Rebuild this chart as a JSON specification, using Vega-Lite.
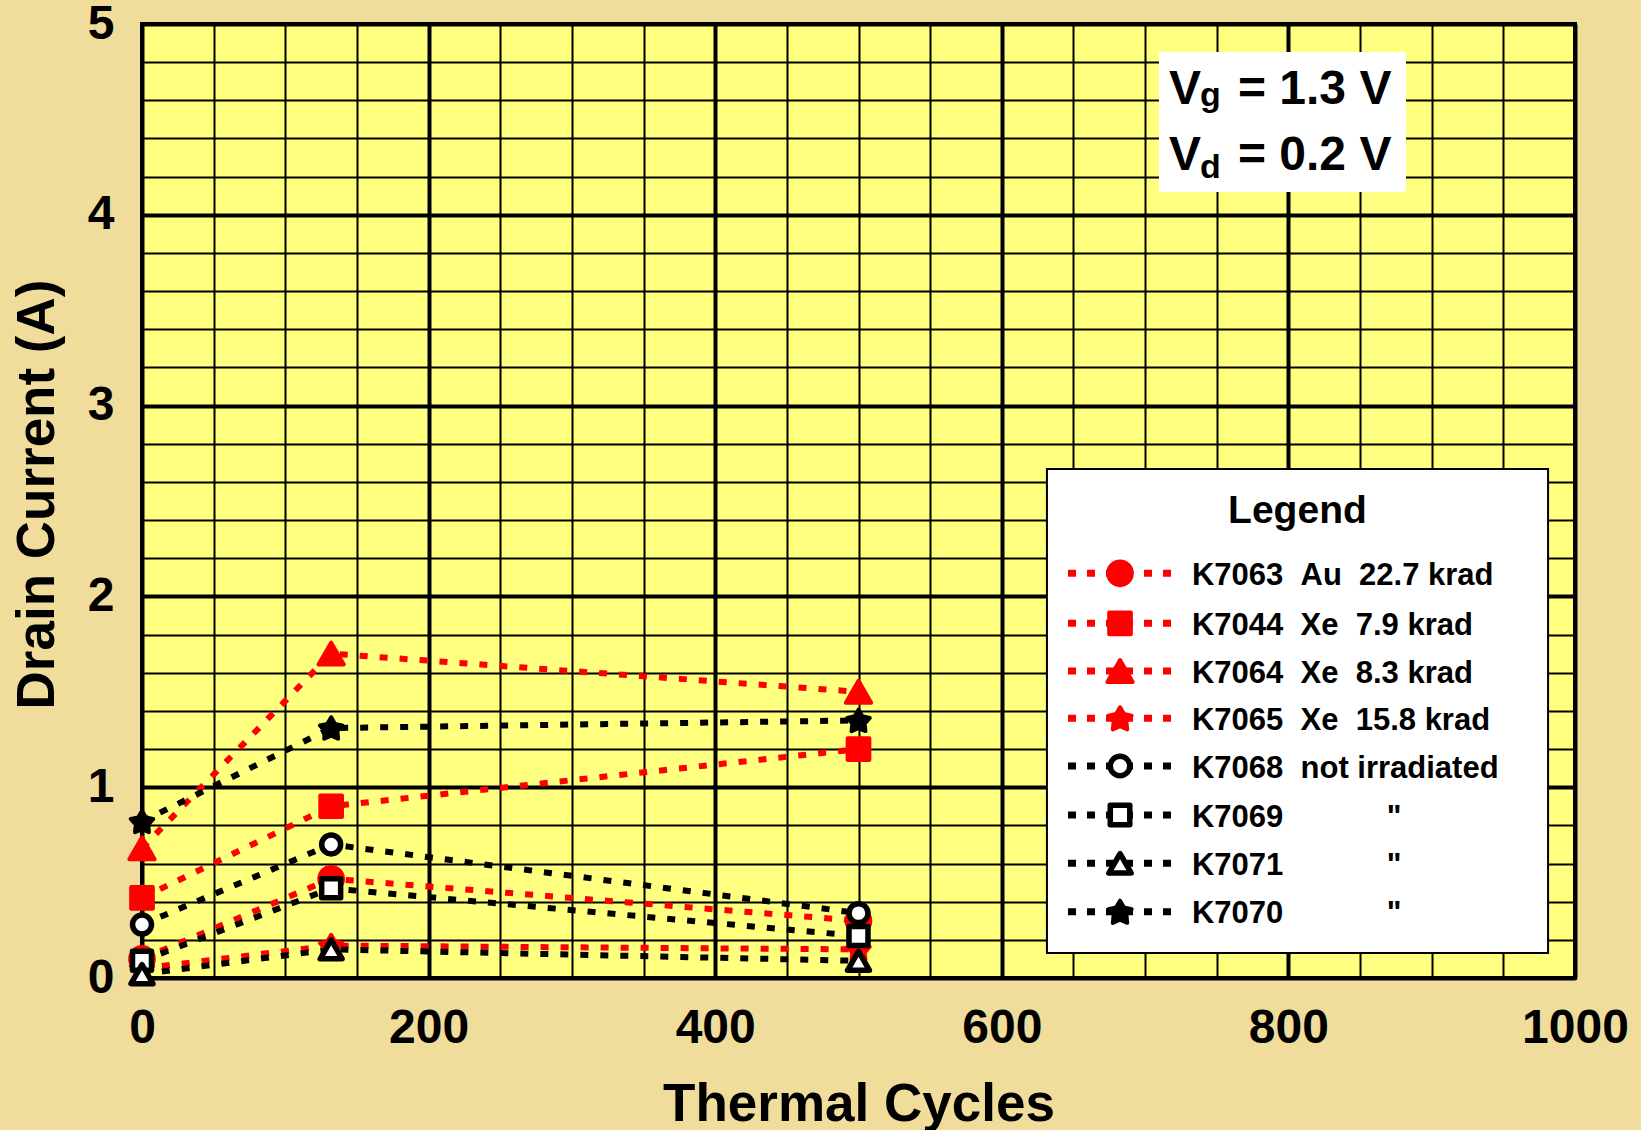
{
  "$schema": "https://vega.github.io/schema/vega-lite/v6.json",
  "width": 1433,
  "height": 954,
  "autosize": {"type": "none"},
  "padding": {"left": 142, "top": 24, "right": 66, "bottom": 152},
  "background": "#F0DC9B",
  "config": {
    "font": "Liberation Sans",
    "view": {"fill": "#FFFF80", "stroke": "#000000", "strokeWidth": 4}
  },
  "data": {
    "values": [
      {"series": "K7063", "cycles": 0, "current": 0.10},
      {"series": "K7063", "cycles": 132, "current": 0.52},
      {"series": "K7063", "cycles": 500, "current": 0.30},
      {"series": "K7044", "cycles": 0, "current": 0.42},
      {"series": "K7044", "cycles": 132, "current": 0.90},
      {"series": "K7044", "cycles": 500, "current": 1.20},
      {"series": "K7064", "cycles": 0, "current": 0.68},
      {"series": "K7064", "cycles": 132, "current": 1.70},
      {"series": "K7064", "cycles": 500, "current": 1.50},
      {"series": "K7065", "cycles": 0, "current": 0.05},
      {"series": "K7065", "cycles": 132, "current": 0.17},
      {"series": "K7065", "cycles": 500, "current": 0.15},
      {"series": "K7068", "cycles": 0, "current": 0.28},
      {"series": "K7068", "cycles": 132, "current": 0.70},
      {"series": "K7068", "cycles": 500, "current": 0.34},
      {"series": "K7069", "cycles": 0, "current": 0.09},
      {"series": "K7069", "cycles": 132, "current": 0.47},
      {"series": "K7069", "cycles": 500, "current": 0.22},
      {"series": "K7071", "cycles": 0, "current": 0.02},
      {"series": "K7071", "cycles": 132, "current": 0.15},
      {"series": "K7071", "cycles": 500, "current": 0.09},
      {"series": "K7070", "cycles": 0, "current": 0.82},
      {"series": "K7070", "cycles": 132, "current": 1.31},
      {"series": "K7070", "cycles": 500, "current": 1.35}
    ]
  },
  "layer": [
    {
      "mark": {"type": "line", "strokeWidth": 6, "strokeDash": [8, 12], "strokeCap": "butt"},
      "encoding": {
        "x": {
          "field": "cycles",
          "type": "quantitative",
          "scale": {"domain": [0, 1000], "nice": false, "zero": false},
          "axis": {
            "title": "Thermal Cycles",
            "values": [0, 50, 100, 150, 200, 250, 300, 350, 400, 450, 500, 550, 600, 650, 700, 750, 800, 850, 900, 950, 1000],
            "tickCount": 40,
            "format": "d",
            "labelExpr": "datum.value % 200 === 0 ? datum.label : ''",
            "grid": true,
            "gridColor": "#000000",
            "gridOpacity": 1,
            "gridWidth": {"condition": {"test": "datum.value % 200 === 0", "value": 4}, "value": 2},
            "ticks": false,
            "tickSize": 0,
            "domain": false,
            "labelFont": "Liberation Sans",
            "labelFontSize": 48,
            "labelFontWeight": "bold",
            "labelColor": "#000000",
            "labelBaseline": "alphabetic",
            "labelPadding": 64,
            "labelFlush": false,
            "labelOverlap": false,
            "titleFont": "Liberation Sans",
            "titleFontSize": 53,
            "titleFontWeight": "bold",
            "titleColor": "#000000",
            "titleBaseline": "alphabetic",
            "titleY": 142
          }
        },
        "y": {
          "field": "current",
          "type": "quantitative",
          "scale": {"domain": [0, 5], "nice": false},
          "axis": {
            "title": "Drain Current (A)",
            "values": [0, 0.2, 0.4, 0.6, 0.8, 1, 1.2, 1.4, 1.6, 1.8, 2, 2.2, 2.4, 2.6, 2.8, 3, 3.2, 3.4, 3.6, 3.8, 4, 4.2, 4.4, 4.6, 4.8, 5],
            "tickCount": 40,
            "labelExpr": "abs(datum.value - round(datum.value)) < 0.001 ? '' + round(datum.value) : ''",
            "grid": true,
            "gridColor": "#000000",
            "gridOpacity": 1,
            "gridWidth": {"condition": {"test": "abs(datum.value - round(datum.value)) < 0.001", "value": 4}, "value": 2},
            "ticks": false,
            "tickSize": 0,
            "domain": false,
            "labelFont": "Liberation Sans",
            "labelFontSize": 48,
            "labelFontWeight": "bold",
            "labelColor": "#000000",
            "labelPadding": 28,
            "labelBaseline": "middle",
            "labelFlush": false,
            "labelOverlap": false,
            "titleFont": "Liberation Sans",
            "titleFontSize": 53,
            "titleFontWeight": "bold",
            "titleColor": "#000000",
            "titleBaseline": "alphabetic",
            "titleAngle": -90,
            "titleX": -89,
            "titleY": 470,
            "titleAlign": "center"
          }
        },
        "stroke": {
          "field": "series",
          "type": "nominal",
          "scale": {
            "domain": ["K7063", "K7044", "K7064", "K7065", "K7068", "K7069", "K7071", "K7070"],
            "range": ["#FF0000", "#FF0000", "#FF0000", "#FF0000", "#000000", "#000000", "#000000", "#000000"]
          },
          "legend": null
        }
      }
    },
    {
      "transform": [{"filter": {"field": "series", "equal": "K7063"}}],
      "mark": {"type": "point", "shape": "circle", "filled": true, "fill": "#FF0000", "stroke": "#FF0000", "strokeWidth": 4, "size": 560, "opacity": 1},
      "encoding": {"x": {"field": "cycles", "type": "quantitative"}, "y": {"field": "current", "type": "quantitative"}}
    },
    {
      "transform": [{"filter": {"field": "series", "equal": "K7044"}}],
      "mark": {"type": "point", "shape": "square", "filled": true, "fill": "#FF0000", "stroke": "#FF0000", "strokeWidth": 4, "strokeJoin": "round", "size": 470, "opacity": 1},
      "encoding": {"x": {"field": "cycles", "type": "quantitative"}, "y": {"field": "current", "type": "quantitative"}}
    },
    {
      "transform": [{"filter": {"field": "series", "equal": "K7064"}}],
      "mark": {"type": "point", "shape": "triangle-up", "filled": true, "fill": "#FF0000", "stroke": "#FF0000", "strokeWidth": 4, "strokeJoin": "round", "size": 640, "opacity": 1},
      "encoding": {"x": {"field": "cycles", "type": "quantitative"}, "y": {"field": "current", "type": "quantitative"}}
    },
    {
      "transform": [{"filter": {"field": "series", "equal": "K7065"}}],
      "mark": {"type": "point", "shape": "M0,-0.905L0.323,-0.35L0.951,-0.214L0.523,0.265L0.588,0.904L0,0.645L-0.588,0.904L-0.523,0.265L-0.951,-0.214L-0.323,-0.35Z", "filled": true, "fill": "#FF0000", "stroke": "#FF0000", "strokeWidth": 4, "strokeJoin": "round", "size": 560, "opacity": 1},
      "encoding": {"x": {"field": "cycles", "type": "quantitative"}, "y": {"field": "current", "type": "quantitative"}}
    },
    {
      "transform": [{"filter": {"field": "series", "equal": "K7070"}}],
      "mark": {"type": "point", "shape": "M0,-0.905L0.323,-0.35L0.951,-0.214L0.523,0.265L0.588,0.904L0,0.645L-0.588,0.904L-0.523,0.265L-0.951,-0.214L-0.323,-0.35Z", "filled": true, "fill": "#000000", "stroke": "#000000", "strokeWidth": 4, "strokeJoin": "round", "size": 560, "opacity": 1},
      "encoding": {"x": {"field": "cycles", "type": "quantitative"}, "y": {"field": "current", "type": "quantitative"}}
    },
    {
      "transform": [{"filter": {"field": "series", "equal": "K7068"}}],
      "mark": {"type": "point", "shape": "circle", "filled": true, "fill": "#FFFFFF", "stroke": "#000000", "strokeWidth": 5.5, "size": 360, "opacity": 1},
      "encoding": {"x": {"field": "cycles", "type": "quantitative"}, "y": {"field": "current", "type": "quantitative"}}
    },
    {
      "transform": [{"filter": {"field": "series", "equal": "K7069"}}],
      "mark": {"type": "point", "shape": "square", "filled": true, "fill": "#FFFFFF", "stroke": "#000000", "strokeWidth": 5.5, "strokeJoin": "round", "size": 360, "opacity": 1},
      "encoding": {"x": {"field": "cycles", "type": "quantitative"}, "y": {"field": "current", "type": "quantitative"}}
    },
    {
      "transform": [{"filter": {"field": "series", "equal": "K7071"}}],
      "mark": {"type": "point", "shape": "triangle-up", "filled": true, "fill": "#FFFFFF", "stroke": "#000000", "strokeWidth": 5.5, "strokeJoin": "round", "size": 480, "opacity": 1},
      "encoding": {"x": {"field": "cycles", "type": "quantitative"}, "y": {"field": "current", "type": "quantitative"}}
    },
    {
      "data": {"values": [{"box": "bias"}]},
      "mark": {"type": "rect", "fill": "#FFFFFF", "strokeWidth": 0},
      "encoding": {"x": {"datum": 709.7, "type": "quantitative"}, "x2": {"datum": 882.1}, "y": {"datum": 4.853, "type": "quantitative"}, "y2": {"datum": 4.119}}
    },
    {
      "data": {"values": [{"box": "bias"}]},
      "mark": {"type": "text", "text": "V", "fontWeight": "bold", "fontSize": 48, "align": "left", "baseline": "alphabetic", "color": "#000000"},
      "encoding": {"x": {"datum": 716.7, "type": "quantitative"}, "y": {"datum": 4.581, "type": "quantitative"}}
    },
    {
      "data": {"values": [{"box": "bias"}]},
      "mark": {"type": "text", "text": "g", "fontWeight": "bold", "fontSize": 34, "align": "left", "baseline": "alphabetic", "color": "#000000"},
      "encoding": {"x": {"datum": 738.3, "type": "quantitative"}, "y": {"datum": 4.57, "type": "quantitative"}}
    },
    {
      "data": {"values": [{"box": "bias"}]},
      "mark": {"type": "text", "text": "= 1.3 V", "fontWeight": "bold", "fontSize": 48, "align": "left", "baseline": "alphabetic", "color": "#000000"},
      "encoding": {"x": {"datum": 764.8, "type": "quantitative"}, "y": {"datum": 4.581, "type": "quantitative"}}
    },
    {
      "data": {"values": [{"box": "bias"}]},
      "mark": {"type": "text", "text": "V", "fontWeight": "bold", "fontSize": 48, "align": "left", "baseline": "alphabetic", "color": "#000000"},
      "encoding": {"x": {"datum": 716.7, "type": "quantitative"}, "y": {"datum": 4.235, "type": "quantitative"}}
    },
    {
      "data": {"values": [{"box": "bias"}]},
      "mark": {"type": "text", "text": "d", "fontWeight": "bold", "fontSize": 34, "align": "left", "baseline": "alphabetic", "color": "#000000"},
      "encoding": {"x": {"datum": 738.3, "type": "quantitative"}, "y": {"datum": 4.193, "type": "quantitative"}}
    },
    {
      "data": {"values": [{"box": "bias"}]},
      "mark": {"type": "text", "text": "= 0.2 V", "fontWeight": "bold", "fontSize": 48, "align": "left", "baseline": "alphabetic", "color": "#000000"},
      "encoding": {"x": {"datum": 764.8, "type": "quantitative"}, "y": {"datum": 4.235, "type": "quantitative"}}
    },
    {
      "data": {"values": [{"box": "legend"}]},
      "mark": {"type": "rect", "fill": "#FFFFFF", "stroke": "#000000", "strokeWidth": 2},
      "encoding": {"x": {"datum": 631.5, "type": "quantitative"}, "x2": {"datum": 981.2}, "y": {"datum": 2.668, "type": "quantitative"}, "y2": {"datum": 0.131}}
    },
    {
      "data": {"values": [{"box": "legend"}]},
      "mark": {"type": "text", "text": "Legend", "fontWeight": "bold", "fontSize": 39, "align": "center", "baseline": "alphabetic", "color": "#000000"},
      "encoding": {"x": {"datum": 806.3, "type": "quantitative"}, "y": {"datum": 2.385, "type": "quantitative"}}
    },
    {"data": {"values": [{"box": "legend"}]}, "mark": {"type": "rule", "color": "#FF0000", "strokeWidth": 7, "strokeDash": [8, 11], "strokeCap": "butt"}, "encoding": {"x": {"datum": 646.2, "type": "quantitative"}, "x2": {"datum": 720.2}, "y": {"datum": 2.121, "type": "quantitative"}}},
    {"data": {"values": [{"box": "legend"}]}, "mark": {"type": "rule", "color": "#FF0000", "strokeWidth": 7, "strokeDash": [8, 11], "strokeCap": "butt"}, "encoding": {"x": {"datum": 646.2, "type": "quantitative"}, "x2": {"datum": 720.2}, "y": {"datum": 1.859, "type": "quantitative"}}},
    {"data": {"values": [{"box": "legend"}]}, "mark": {"type": "rule", "color": "#FF0000", "strokeWidth": 7, "strokeDash": [8, 11], "strokeCap": "butt"}, "encoding": {"x": {"datum": 646.2, "type": "quantitative"}, "x2": {"datum": 720.2}, "y": {"datum": 1.609, "type": "quantitative"}}},
    {"data": {"values": [{"box": "legend"}]}, "mark": {"type": "rule", "color": "#FF0000", "strokeWidth": 7, "strokeDash": [8, 11], "strokeCap": "butt"}, "encoding": {"x": {"datum": 646.2, "type": "quantitative"}, "x2": {"datum": 720.2}, "y": {"datum": 1.361, "type": "quantitative"}}},
    {"data": {"values": [{"box": "legend"}]}, "mark": {"type": "rule", "color": "#000000", "strokeWidth": 7, "strokeDash": [8, 11], "strokeCap": "butt"}, "encoding": {"x": {"datum": 646.2, "type": "quantitative"}, "x2": {"datum": 720.2}, "y": {"datum": 1.111, "type": "quantitative"}}},
    {"data": {"values": [{"box": "legend"}]}, "mark": {"type": "rule", "color": "#000000", "strokeWidth": 7, "strokeDash": [8, 11], "strokeCap": "butt"}, "encoding": {"x": {"datum": 646.2, "type": "quantitative"}, "x2": {"datum": 720.2}, "y": {"datum": 0.854, "type": "quantitative"}}},
    {"data": {"values": [{"box": "legend"}]}, "mark": {"type": "rule", "color": "#000000", "strokeWidth": 7, "strokeDash": [8, 11], "strokeCap": "butt"}, "encoding": {"x": {"datum": 646.2, "type": "quantitative"}, "x2": {"datum": 720.2}, "y": {"datum": 0.601, "type": "quantitative"}}},
    {"data": {"values": [{"box": "legend"}]}, "mark": {"type": "rule", "color": "#000000", "strokeWidth": 7, "strokeDash": [8, 11], "strokeCap": "butt"}, "encoding": {"x": {"datum": 646.2, "type": "quantitative"}, "x2": {"datum": 720.2}, "y": {"datum": 0.347, "type": "quantitative"}}},
    {"data": {"values": [{"box": "legend"}]}, "mark": {"type": "point", "shape": "circle", "filled": true, "fill": "#FF0000", "stroke": "#FF0000", "strokeWidth": 4, "size": 560, "opacity": 1}, "encoding": {"x": {"datum": 682.5, "type": "quantitative"}, "y": {"datum": 2.121, "type": "quantitative"}}},
    {"data": {"values": [{"box": "legend"}]}, "mark": {"type": "point", "shape": "square", "filled": true, "fill": "#FF0000", "stroke": "#FF0000", "strokeWidth": 4, "strokeJoin": "round", "size": 470, "opacity": 1}, "encoding": {"x": {"datum": 682.5, "type": "quantitative"}, "y": {"datum": 1.859, "type": "quantitative"}}},
    {"data": {"values": [{"box": "legend"}]}, "mark": {"type": "point", "shape": "triangle-up", "filled": true, "fill": "#FF0000", "stroke": "#FF0000", "strokeWidth": 4, "strokeJoin": "round", "size": 640, "opacity": 1}, "encoding": {"x": {"datum": 682.5, "type": "quantitative"}, "y": {"datum": 1.609, "type": "quantitative"}}},
    {"data": {"values": [{"box": "legend"}]}, "mark": {"type": "point", "shape": "M0,-0.905L0.323,-0.35L0.951,-0.214L0.523,0.265L0.588,0.904L0,0.645L-0.588,0.904L-0.523,0.265L-0.951,-0.214L-0.323,-0.35Z", "filled": true, "fill": "#FF0000", "stroke": "#FF0000", "strokeWidth": 4, "strokeJoin": "round", "size": 600, "opacity": 1}, "encoding": {"x": {"datum": 682.5, "type": "quantitative"}, "y": {"datum": 1.361, "type": "quantitative"}}},
    {"data": {"values": [{"box": "legend"}]}, "mark": {"type": "point", "shape": "circle", "filled": true, "fill": "#FFFFFF", "stroke": "#000000", "strokeWidth": 5.5, "size": 380, "opacity": 1}, "encoding": {"x": {"datum": 682.5, "type": "quantitative"}, "y": {"datum": 1.111, "type": "quantitative"}}},
    {"data": {"values": [{"box": "legend"}]}, "mark": {"type": "point", "shape": "square", "filled": true, "fill": "#FFFFFF", "stroke": "#000000", "strokeWidth": 5.5, "strokeJoin": "round", "size": 380, "opacity": 1}, "encoding": {"x": {"datum": 682.5, "type": "quantitative"}, "y": {"datum": 0.854, "type": "quantitative"}}},
    {"data": {"values": [{"box": "legend"}]}, "mark": {"type": "point", "shape": "triangle-up", "filled": true, "fill": "#FFFFFF", "stroke": "#000000", "strokeWidth": 5.5, "strokeJoin": "round", "size": 500, "opacity": 1}, "encoding": {"x": {"datum": 682.5, "type": "quantitative"}, "y": {"datum": 0.601, "type": "quantitative"}}},
    {"data": {"values": [{"box": "legend"}]}, "mark": {"type": "point", "shape": "M0,-0.905L0.323,-0.35L0.951,-0.214L0.523,0.265L0.588,0.904L0,0.645L-0.588,0.904L-0.523,0.265L-0.951,-0.214L-0.323,-0.35Z", "filled": true, "fill": "#000000", "stroke": "#000000", "strokeWidth": 4, "strokeJoin": "round", "size": 600, "opacity": 1}, "encoding": {"x": {"datum": 682.5, "type": "quantitative"}, "y": {"datum": 0.347, "type": "quantitative"}}},
    {"data": {"values": [{"box": "legend"}]}, "mark": {"type": "text", "text": "K7063\u00a0\u00a0Au\u00a0\u00a022.7 krad", "fontWeight": "bold", "fontSize": 31, "align": "left", "baseline": "alphabetic", "color": "#000000"}, "encoding": {"x": {"datum": 732.7, "type": "quantitative"}, "y": {"datum": 2.06, "type": "quantitative"}}},
    {"data": {"values": [{"box": "legend"}]}, "mark": {"type": "text", "text": "K7044\u00a0\u00a0Xe\u00a0\u00a07.9 krad", "fontWeight": "bold", "fontSize": 31, "align": "left", "baseline": "alphabetic", "color": "#000000"}, "encoding": {"x": {"datum": 732.7, "type": "quantitative"}, "y": {"datum": 1.798, "type": "quantitative"}}},
    {"data": {"values": [{"box": "legend"}]}, "mark": {"type": "text", "text": "K7064\u00a0\u00a0Xe\u00a0\u00a08.3 krad", "fontWeight": "bold", "fontSize": 31, "align": "left", "baseline": "alphabetic", "color": "#000000"}, "encoding": {"x": {"datum": 732.7, "type": "quantitative"}, "y": {"datum": 1.548, "type": "quantitative"}}},
    {"data": {"values": [{"box": "legend"}]}, "mark": {"type": "text", "text": "K7065\u00a0\u00a0Xe\u00a0\u00a015.8 krad", "fontWeight": "bold", "fontSize": 31, "align": "left", "baseline": "alphabetic", "color": "#000000"}, "encoding": {"x": {"datum": 732.7, "type": "quantitative"}, "y": {"datum": 1.3, "type": "quantitative"}}},
    {"data": {"values": [{"box": "legend"}]}, "mark": {"type": "text", "text": "K7068\u00a0\u00a0not irradiated", "fontWeight": "bold", "fontSize": 31, "align": "left", "baseline": "alphabetic", "color": "#000000"}, "encoding": {"x": {"datum": 732.7, "type": "quantitative"}, "y": {"datum": 1.05, "type": "quantitative"}}},
    {"data": {"values": [{"box": "legend"}]}, "mark": {"type": "text", "text": "K7069\u00a0\u00a0\u00a0\u00a0\u00a0\u00a0\u00a0\u00a0\u00a0\u00a0\u00a0\u00a0\"", "fontWeight": "bold", "fontSize": 31, "align": "left", "baseline": "alphabetic", "color": "#000000"}, "encoding": {"x": {"datum": 732.7, "type": "quantitative"}, "y": {"datum": 0.793, "type": "quantitative"}}},
    {"data": {"values": [{"box": "legend"}]}, "mark": {"type": "text", "text": "K7071\u00a0\u00a0\u00a0\u00a0\u00a0\u00a0\u00a0\u00a0\u00a0\u00a0\u00a0\u00a0\"", "fontWeight": "bold", "fontSize": 31, "align": "left", "baseline": "alphabetic", "color": "#000000"}, "encoding": {"x": {"datum": 732.7, "type": "quantitative"}, "y": {"datum": 0.54, "type": "quantitative"}}},
    {"data": {"values": [{"box": "legend"}]}, "mark": {"type": "text", "text": "K7070\u00a0\u00a0\u00a0\u00a0\u00a0\u00a0\u00a0\u00a0\u00a0\u00a0\u00a0\u00a0\"", "fontWeight": "bold", "fontSize": 31, "align": "left", "baseline": "alphabetic", "color": "#000000"}, "encoding": {"x": {"datum": 732.7, "type": "quantitative"}, "y": {"datum": 0.287, "type": "quantitative"}}}
  ]
}
